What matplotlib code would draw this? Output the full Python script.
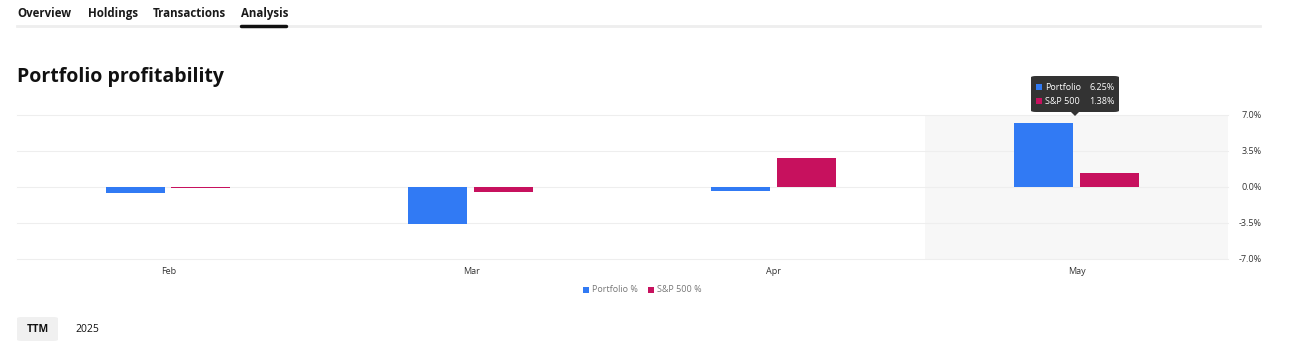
import matplotlib
matplotlib.use("Agg")
import matplotlib.pyplot as plt
from matplotlib.patches import FancyBboxPatch, Polygon, Rectangle
from matplotlib.lines import Line2D

plt.rcParams['font.family'] = ['Open Sans', 'DejaVu Sans']

# data
months = ["Feb", "Mar", "Apr", "May"]
portfolio = [-0.6, -3.6, -0.4, 6.25]
sp500 = [-0.05, -0.5, 2.8, 1.38]
yticks = [7.0, 3.5, 0.0, -3.5, -7.0]
tabs = ["Overview", "Holdings", "Transactions", "Analysis"]
tab_x = [17, 88, 153, 241]

BLUE = "#317af4"
RED = "#c7115e"
W, H = 1305, 353

fig = plt.figure(figsize=(W / 100, H / 100), dpi=100)
fig.patch.set_facecolor("white")


def px(x, y):
    # pixel coords (from top-left) -> figure fraction
    return x / W, 1 - y / H


# tab bar
for name, x in zip(tabs, tab_x):
    fig.text(*px(x, 13.5), name, fontsize=8.3, fontweight="bold", color="#1a1a1a",
             ha="left", va="center")
fig.add_artist(Line2D([17 / W, 1260 / W], [1 - 25.5 / H] * 2, color="#eeeeee", lw=2))
fig.add_artist(Line2D([241 / W, 286 / W], [1 - 26 / H] * 2, color="#111111", lw=2.5,
                      solid_capstyle="round"))

# title
fig.text(*px(17, 77), "Portfolio profitability", fontsize=14, fontweight="bold",
         color="#111111", ha="left", va="center")

# main axes
l, b = px(17, 259)
r, t = px(1228, 115)
ax = fig.add_axes([l, b, r - l, t - b])
ax.set_xlim(-0.5, len(months) - 0.5)
ax.set_ylim(-7, 7)
for s in ax.spines.values():
    s.set_visible(False)

ax.axvspan(2.5, 3.5, color="#f7f7f7", zorder=0, lw=0)
for v in yticks:
    ax.axhline(v, color="#eeeeee", lw=0.8, zorder=1, clip_on=False)

xs = range(len(months))
bw = 0.195
ax.bar([x - 0.11 for x in xs], portfolio, width=bw, color=BLUE, zorder=3)
ax.bar([x + 0.107 for x in xs], sp500, width=bw, color=RED, zorder=3)

ax.set_xticks(list(xs))
ax.set_xticklabels(months, fontsize=6.5, color="#333333")
ax.tick_params(axis="x", length=0, pad=5.5)
ax.yaxis.tick_right()
ax.set_yticks(yticks)
ax.set_yticklabels([f"{v:.1f}%" for v in yticks], fontsize=6.5, color="#333333")
ax.tick_params(axis="y", length=0, pad=24.5)
for lab in ax.get_yticklabels():
    lab.set_horizontalalignment("right")

# tooltip
tl, tb = px(1031, 112)
tr, tt = px(1119, 76)
fig.add_artist(FancyBboxPatch((tl, tb), tr - tl, tt - tb,
                              boxstyle="round,pad=0,rounding_size=0.004",
                              transform=fig.transFigure, fc="#333333", ec="none"))
fig.add_artist(Polygon([px(1071, 112), px(1079, 112), px(1075, 116)], closed=True,
                       transform=fig.transFigure, fc="#333333", ec="none"))
tips = [("Portfolio", portfolio[-1], BLUE, 87), ("S&P 500", sp500[-1], RED, 101)]
for name, val, col, y in tips:
    x0, y0 = px(1036, y + 3)
    fig.add_artist(Rectangle((x0, y0), 6 / W, 6 / H, transform=fig.transFigure,
                             fc=col, ec="none"))
    fig.text(*px(1045, y), name, fontsize=6.5, color="white", ha="left", va="center")
    fig.text(*px(1115, y), f"{val:.2f}%", fontsize=6.5, color="white", ha="right",
             va="center")

# legend
for x, name, col in [(583, "Portfolio %", BLUE), (648, "S&P 500 %", RED)]:
    x0, y0 = px(x, 293)
    fig.add_artist(Rectangle((x0, y0), 6 / W, 6 / H, transform=fig.transFigure,
                             fc=col, ec="none"))
    fig.text(*px(x + 9, 290), name, fontsize=6.5, color="#777777", ha="left",
             va="center")

# period selector
bl, bb = px(17, 341)
br, bt = px(58, 317)
fig.add_artist(FancyBboxPatch((bl, bb), br - bl, bt - bb,
                              boxstyle="round,pad=0,rounding_size=0.004",
                              transform=fig.transFigure, fc="#f0f0f0", ec="none"))
fig.text(*px(37.5, 329), "TTM", fontsize=7.5, fontweight="bold", color="#111111",
         ha="center", va="center")
fig.text(*px(75, 329), "2025", fontsize=7.5, color="#111111", ha="left", va="center")

fig.savefig("out.png", dpi=100, facecolor="white")
